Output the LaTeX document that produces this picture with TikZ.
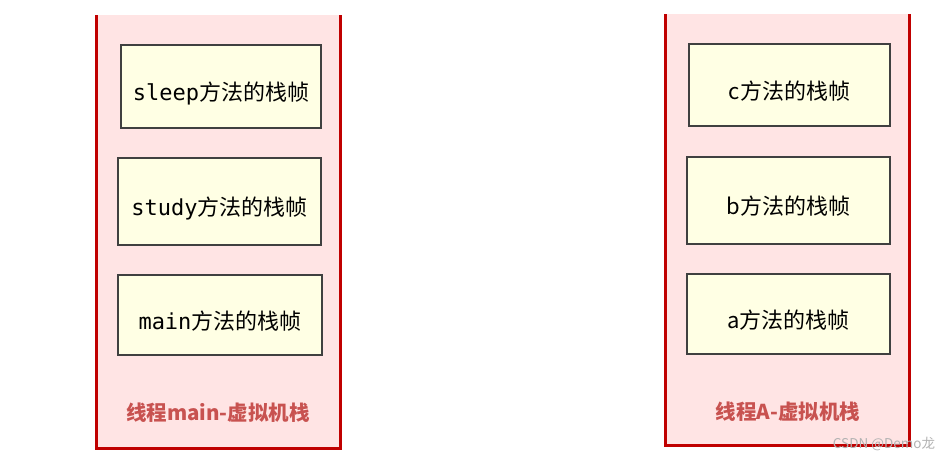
\documentclass[tikz,border=0pt]{standalone}
\usepackage{fontspec}
\newfontfamily\cjk{Noto Sans CJK SC}
\newfontfamily\codefont{DejaVu Sans Mono}
\usetikzlibrary{positioning}
\definecolor{stackred}{RGB}{192,0,0}
\definecolor{stackfill}{RGB}{255,228,228}
\definecolor{framefill}{RGB}{255,255,228}
\definecolor{framegray}{RGB}{64,64,64}
\definecolor{labelred}{RGB}{200,82,80}
\tikzset{
  frame/.style={fill=framefill, draw=framegray, line width=1.3pt,
    minimum width=201pt, minimum height=83pt, inner sep=0pt,
    text height=30pt, text depth=2pt,
    font=\cjk\fontsize{22}{26}\selectfont},
  stacklabel/.style={font=\cjk\bfseries\fontsize{20.5}{24}\selectfont, text=labelred},
  stackwall/.style={draw=stackred, line width=3pt}
}
\begin{document}
\begin{tikzpicture}[x=1pt,y=-1pt]
    \useasboundingbox (0,0) rectangle (947,461);

    \fill[stackfill] (96,15) rectangle (340,448);
    \draw[stackwall] (96,15) -- (96,448) -- (340,448) -- (340,15);
    \fill[stackfill] (665,14) rectangle (909,445);
    \draw[stackwall] (665,14) -- (665,445) -- (909,445) -- (909,14);

    \node[frame, minimum width=200pt, minimum height=83pt] (sleep) at (221,86.5) {{\codefont sleep}方法的栈帧};
    \node[frame, minimum width=203pt, minimum height=87pt] (study) at (219.5,201.5) {{\codefont study}方法的栈帧};
    \node[frame, minimum width=204pt, minimum height=80pt] (main) at (220,315) {{\codefont main}方法的栈帧};
    \node[stacklabel] (mainlabel) at (218,413) {线程main-虚拟机栈};

    \node[frame, minimum width=201pt, minimum height=82pt] (c) at (789.5,85) {c方法的栈帧};
    \node[frame, minimum width=203pt, minimum height=87pt] (b) at (788.5,200.5) {b方法的栈帧};
    \node[frame, minimum width=203pt, minimum height=80pt] (a) at (788.5,314) {a方法的栈帧};
    \node[stacklabel] (alabel) at (788,412) {线程A-虚拟机栈};

    \node[font=\cjk\fontsize{13.5}{15}\selectfont, text=gray!60] (mark) at (884,444) {CSDN @Demo龙};
  \end{tikzpicture}
\end{document}
